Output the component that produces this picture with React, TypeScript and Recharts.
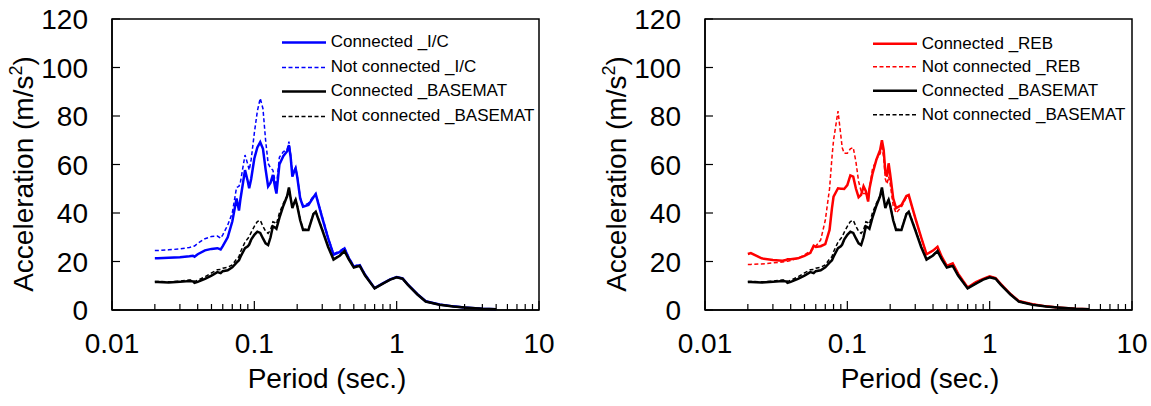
import React from 'react';
import { LineChart, Line, XAxis, YAxis, ReferenceArea, Legend, Label } from 'recharts';

const FONT = "'Liberation Sans', Arial, Helvetica, sans-serif";

// Natural period (sec.)
const periods = [
  0.02, 0.021, 0.025, 0.03, 0.035, 0.037, 0.038, 0.04, 0.045, 0.05,
  0.055, 0.058, 0.06, 0.065, 0.07, 0.075, 0.078, 0.08, 0.086, 0.09,
  0.092, 0.095, 0.1, 0.105, 0.11, 0.115, 0.12, 0.125, 0.13, 0.135,
  0.14, 0.143, 0.15, 0.16, 0.17, 0.175, 0.18, 0.185, 0.19, 0.195,
  0.2, 0.21, 0.22, 0.24, 0.26, 0.27, 0.3, 0.33, 0.36, 0.4,
  0.43, 0.46, 0.5, 0.55, 0.6, 0.7, 0.8, 0.9, 1.0, 1.1,
  1.2, 1.4, 1.6, 2.0, 2.5, 3.0, 4.0, 5.0,
];

// Spectral acceleration (m/s^2)
const icConnected = [
  21.3, 21.3, 21.5, 21.8, 22.2, 22.4, 22.0, 23.0, 24.6, 25.2,
  25.5, 25.0, 26.3, 30.0, 36.5, 46.0, 41.0, 46.0, 57.7, 53.0,
  50.2, 54.0, 62.5, 67.0, 69.2, 66.5, 58.0, 51.0, 52.5, 55.7,
  50.5, 48.0, 60.0, 63.5, 65.5, 68.0, 63.0, 55.0, 57.0, 58.4,
  55.0, 46.0, 42.6, 43.3, 46.5, 47.8, 38.0, 29.5, 22.8, 24.0,
  25.4, 21.5, 17.9, 18.5, 14.5, 9.0, 11.0, 12.6, 13.6, 13.0,
  10.5, 6.5, 3.6, 2.3, 1.5, 1.0, 0.5, 0.3,
];
const icNotConnected = [
  24.5, 24.5, 24.8, 25.2, 25.8, 26.2, 26.4, 27.5, 29.4, 30.3,
  30.5, 29.6, 31.0, 35.0, 40.0, 50.5, 51.0, 53.0, 63.9, 60.0,
  57.7, 62.0, 73.0, 82.0, 87.3, 83.0, 70.0, 60.5, 58.5, 57.7,
  53.0, 51.0, 63.0, 65.3, 66.0, 69.4, 64.0, 56.0, 57.5, 58.8,
  55.5, 46.5, 43.0, 44.0, 47.0, 48.0, 38.5, 30.0, 23.2, 24.4,
  25.7, 21.8, 18.2, 18.8, 14.6, 9.0, 11.0, 12.6, 13.6, 13.0,
  10.5, 6.5, 3.6, 2.3, 1.5, 1.0, 0.5, 0.3,
];
const rebConnected = [
  23.1, 23.5, 21.3, 20.6, 20.3, 20.6, 20.9, 20.9, 21.3, 22.3,
  23.6, 26.5, 26.0, 26.3, 27.2, 33.0, 42.0, 46.7, 50.2, 50.0,
  50.0, 49.9, 51.5, 55.5, 55.0, 50.0, 46.5, 47.5, 51.0, 49.0,
  44.7, 50.0, 56.0, 62.0, 66.0, 70.0, 66.0, 57.0, 55.0, 60.5,
  56.0, 46.0, 42.0, 43.3, 47.0, 47.4, 38.0, 30.0, 23.0, 24.5,
  26.1, 22.0, 18.2, 19.2, 15.0, 9.3, 11.5, 12.8, 13.9, 13.2,
  10.7, 6.6, 3.7, 2.4, 1.5, 1.0, 0.5, 0.3,
];
const rebNotConnected = [
  18.8, 18.8, 19.0, 19.4, 19.8, 20.0, 20.1, 20.4, 21.4, 22.7,
  24.3, 25.5, 26.3, 28.9, 37.0, 50.0, 63.0, 70.0, 82.0, 72.0,
  67.0, 64.6, 64.6, 66.5, 67.0, 61.0, 53.0, 49.0, 48.0, 48.0,
  45.0, 50.0, 58.0, 62.0, 64.5, 67.0, 63.0, 54.0, 52.0, 55.0,
  52.0, 43.0, 40.0, 42.5, 46.5, 47.0, 38.0, 30.0, 23.0, 24.5,
  26.0, 22.0, 18.2, 19.2, 15.0, 9.3, 11.5, 12.8, 13.9, 13.2,
  10.7, 6.6, 3.7, 2.4, 1.5, 1.0, 0.5, 0.3,
];
const basematConnected = [
  11.5, 11.5, 11.3, 11.6, 12.0, 11.8, 11.2, 11.6, 12.8, 14.2,
  15.6, 15.2, 16.0, 16.4, 17.6, 19.5, 20.5, 22.0, 25.5, 26.3,
  27.0, 29.0, 31.0, 32.3, 31.8, 29.5, 27.5, 26.8, 30.0, 34.5,
  34.0, 33.5, 38.0, 43.0, 47.0, 50.5, 46.0, 42.0, 44.0, 45.4,
  43.0, 37.0, 33.0, 33.0, 39.5, 40.5, 33.0, 26.0, 20.8, 22.5,
  24.3, 21.0, 17.5, 18.2, 14.2, 8.9, 10.9, 12.5, 13.5, 12.9,
  10.4, 6.4, 3.5, 2.2, 1.4, 1.0, 0.5, 0.3,
];
const basematNotConnected = [
  11.8, 11.8, 11.6, 11.9, 12.4, 12.3, 11.8, 12.2, 13.7, 15.3,
  16.6, 16.7, 17.2, 17.6, 18.6, 21.0, 22.0, 24.0, 28.0, 29.5,
  30.2, 32.0, 34.5, 36.5, 37.0, 34.5, 32.5, 31.6, 33.0, 36.4,
  36.0, 35.5, 40.0, 44.0, 47.0, 50.0, 46.5, 43.0, 44.5, 45.6,
  43.3, 37.3, 33.3, 33.3, 39.8, 40.8, 33.3, 26.3, 21.0, 22.7,
  24.5, 21.2, 17.7, 18.3, 14.3, 8.9, 10.9, 12.5, 13.5, 12.9,
  10.4, 6.4, 3.5, 2.2, 1.4, 1.0, 0.5, 0.3,
];

const yTicks = [0, 20, 40, 60, 80, 100, 120];
const xMajorTicks = [0.01, 0.1, 1, 10];
const xTickLabels = ['0.01', '0.1', '1', '10'];
const xMinorTicks = [
  0.02, 0.03, 0.04, 0.05, 0.06, 0.07, 0.08, 0.09,
  0.2, 0.3, 0.4, 0.5, 0.6, 0.7, 0.8, 0.9,
  2, 3, 4, 5, 6, 7, 8, 9,
];
const xTicks = [...xMajorTicks, ...xMinorTicks].sort((a, b) => a - b);

const leftRows = periods.map((p, i) => ({
  p,
  icConn: icConnected[i],
  icNot: icNotConnected[i],
  baseConn: basematConnected[i],
  baseNot: basematNotConnected[i],
}));
const rightRows = periods.map((p, i) => ({
  p,
  rebConn: rebConnected[i],
  rebNot: rebNotConnected[i],
  baseConn: basematConnected[i],
  baseNot: basematNotConnected[i],
}));

type Series = { key: string; name: string; color: string; dashed: boolean };

const leftSeries: Series[] = [
  { key: 'icConn', name: 'Connected _I/C', color: '#0000FF', dashed: false },
  { key: 'icNot', name: 'Not connected _I/C', color: '#0000FF', dashed: true },
  { key: 'baseConn', name: 'Connected _BASEMAT', color: '#000000', dashed: false },
  { key: 'baseNot', name: 'Not connected _BASEMAT', color: '#000000', dashed: true },
];
const rightSeries: Series[] = [
  { key: 'rebConn', name: 'Connected _REB', color: '#FF0000', dashed: false },
  { key: 'rebNot', name: 'Not connected _REB', color: '#FF0000', dashed: true },
  { key: 'baseConn', name: 'Connected _BASEMAT', color: '#000000', dashed: false },
  { key: 'baseNot', name: 'Not connected _BASEMAT', color: '#000000', dashed: true },
];

const DASH = '4 2.5';
const SOLID_W = 2.5;
const DASH_W = 1.5;

// Inward tick marks on the period axis; labels only at decades
const XTick = (props: any) => {
  const { x, y, payload } = props;
  const idx = xMajorTicks.indexOf(payload.value);
  const major = idx >= 0;
  return (
    <g>
      <line x1={x} x2={x} y1={y} y2={y - (major ? 9 : 6)} stroke="#000" strokeWidth={1.2} />
      {major && (
        <text x={x} y={y + 43} textAnchor="middle" fontSize={28} fontFamily={FONT} fill="#000">
          {xTickLabels[idx]}
        </text>
      )}
    </g>
  );
};

const YTick = (props: any) => {
  const { x, y, payload } = props;
  return (
    <g>
      <line x1={x} x2={x + 8} y1={y} y2={y} stroke="#000" strokeWidth={1.2} />
      <text x={x - 24} y={y + 10} textAnchor="end" fontSize={28} fontFamily={FONT} fill="#000">
        {payload.value}
      </text>
    </g>
  );
};

const YTitle = (props: any) => {
  const vb = props.viewBox || { x: 12, y: 19, width: 100, height: 291 };
  const cx = vb.x + 21;
  const cy = vb.y + vb.height / 2 + 9.5;
  return (
    <text
      transform={`rotate(-90 ${cx} ${cy})`}
      x={cx}
      y={cy}
      textAnchor="middle"
      fontSize={28}
      fontFamily={FONT}
      fill="#000"
    >
      Acceleration (m/s
      <tspan dy={-11} fontSize={18}>2</tspan>
      <tspan dy={11}>)</tspan>
    </text>
  );
};

const XTitle = (props: any) => {
  const vb = props.viewBox || { x: 112, y: 310, width: 427, height: 80 };
  return (
    <text
      x={vb.x + vb.width / 2 + 1.5}
      y={vb.y + 78}
      textAnchor="middle"
      fontSize={28}
      fontFamily={FONT}
      fill="#000"
    >
      Period (sec.)
    </text>
  );
};

const LegendBox = ({ series, rowHeight }: { series: Series[]; rowHeight: number }) => (
  <div style={{ fontFamily: FONT, fontSize: 17, color: '#000', lineHeight: `${rowHeight}px` }}>
    {series.map((s) => (
      <div
        key={s.key}
        style={{ display: 'flex', alignItems: 'center', height: rowHeight, whiteSpace: 'nowrap' }}
      >
        <svg width={44} height={rowHeight} style={{ display: 'block', flex: 'none' }}>
          <line
            x1={0}
            x2={44}
            y1={rowHeight / 2}
            y2={rowHeight / 2}
            stroke={s.color}
            strokeWidth={s.dashed ? DASH_W : SOLID_W}
            strokeDasharray={s.dashed ? DASH : undefined}
          />
        </svg>
        <span style={{ marginLeft: 5 }}>{s.name}</span>
      </div>
    ))}
  </div>
);

type PanelProps = {
  rows: any[];
  series: Series[];
  width: number;
  marginRight: number;
  legendLeft: number;
  legendTop: number;
  rowHeight: number;
};

const SpectrumPanel = ({ rows, series, width, marginRight, legendLeft, legendTop, rowHeight }: PanelProps) => (
  <LineChart
    width={width}
    height={406}
    data={rows}
    margin={{ top: 19, right: marginRight, bottom: 16, left: 12 }}
  >
    <XAxis
      dataKey="p"
      type="number"
      scale="log"
      domain={[0.01, 10]}
      allowDataOverflow
      ticks={xTicks}
      interval={0}
      tick={<XTick />}
      tickLine={false}
      tickSize={0}
      tickMargin={0}
      axisLine={{ stroke: '#000', strokeWidth: 1.5 }}
      height={80}
    >
      <Label content={<XTitle />} />
    </XAxis>
    <YAxis
      type="number"
      domain={[0, 120]}
      ticks={yTicks}
      interval={0}
      tick={<YTick />}
      tickLine={false}
      tickSize={0}
      tickMargin={0}
      axisLine={{ stroke: '#000', strokeWidth: 1.5 }}
      width={100}
    >
      <Label content={<YTitle />} />
    </YAxis>
    <ReferenceArea x1={0.01} x2={10} y1={0} y2={120} fill="none" stroke="#000" strokeWidth={1.5} />
    {series.map((s) => (
      <Line
        key={s.key}
        dataKey={s.key}
        name={s.name}
        type="linear"
        stroke={s.color}
        strokeWidth={s.dashed ? DASH_W : SOLID_W}
        strokeDasharray={s.dashed ? DASH : undefined}
        dot={false}
        activeDot={false}
        isAnimationActive={false}
      />
    ))}
    <Legend
      layout="horizontal"
      align="center"
      verticalAlign="middle"
      wrapperStyle={{ left: legendLeft, top: legendTop, width: 260, height: rowHeight * 4 }}
      content={() => <LegendBox series={series} rowHeight={rowHeight} />}
    />
  </LineChart>
);

export default function App() {
  return (
    <div
      style={{
        position: 'absolute',
        left: 0,
        top: 0,
        width: 1151,
        height: 406,
        overflow: 'hidden',
        background: '#fff',
      }}
    >
      <div style={{ position: 'absolute', left: 0, top: 0 }}>
        <SpectrumPanel
          rows={leftRows}
          series={leftSeries}
          width={575}
          marginRight={36}
          legendLeft={281.7}
          legendTop={29.9}
          rowHeight={24.8}
        />
      </div>
      <div style={{ position: 'absolute', left: 593, top: 0 }}>
        <SpectrumPanel
          rows={rightRows}
          series={rightSeries}
          width={558}
          marginRight={19}
          legendLeft={279.7}
          legendTop={31.5}
          rowHeight={23.7}
        />
      </div>
    </div>
  );
}
